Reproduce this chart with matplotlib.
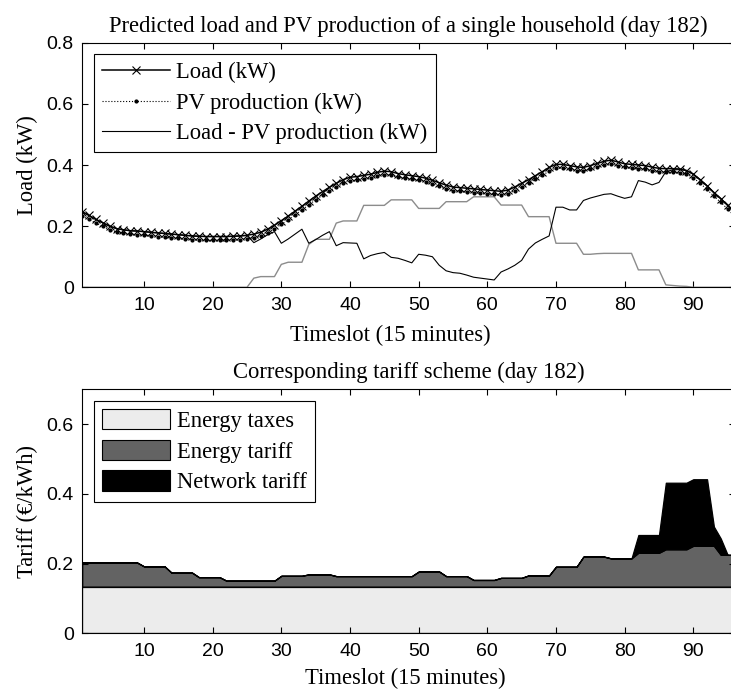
import matplotlib
matplotlib.use("Agg")
import matplotlib.pyplot as plt
from matplotlib.patches import Patch

# ---------------- data ----------------
timeslots = list(range(1, 97))

load = [0.247, 0.235, 0.222, 0.211, 0.200, 0.192, 0.188, 0.185, 0.184, 0.182,
        0.180, 0.178, 0.176, 0.174, 0.172, 0.170, 0.168, 0.167, 0.166, 0.166,
        0.166, 0.166, 0.167, 0.168, 0.170, 0.174, 0.180, 0.190, 0.203, 0.218,
        0.233, 0.249, 0.265, 0.282, 0.298, 0.313, 0.327, 0.340, 0.352, 0.360,
        0.362, 0.366, 0.370, 0.376, 0.380, 0.378, 0.372, 0.368, 0.365, 0.362,
        0.357, 0.350, 0.342, 0.334, 0.328, 0.326, 0.324, 0.322, 0.320, 0.318,
        0.316, 0.314, 0.318, 0.328, 0.340, 0.352, 0.365, 0.378, 0.392, 0.402,
        0.402, 0.398, 0.394, 0.392, 0.398, 0.405, 0.412, 0.416, 0.410, 0.404,
        0.402, 0.400, 0.398, 0.393, 0.389, 0.388, 0.388, 0.387, 0.382, 0.370,
        0.352, 0.332, 0.310, 0.290, 0.268, 0.245]

dotted_series = [0.232, 0.222, 0.210, 0.199, 0.188, 0.180, 0.176, 0.173, 0.172, 0.170,
                 0.168, 0.166, 0.164, 0.162, 0.160, 0.158, 0.156, 0.155, 0.154, 0.154,
                 0.154, 0.154, 0.155, 0.156, 0.158, 0.162, 0.168, 0.178, 0.191, 0.206,
                 0.221, 0.237, 0.253, 0.270, 0.286, 0.301, 0.315, 0.328, 0.340, 0.348,
                 0.350, 0.354, 0.358, 0.364, 0.368, 0.366, 0.360, 0.356, 0.353, 0.350,
                 0.345, 0.338, 0.330, 0.322, 0.316, 0.314, 0.312, 0.310, 0.308, 0.306,
                 0.304, 0.302, 0.306, 0.316, 0.328, 0.340, 0.353, 0.366, 0.380, 0.390,
                 0.390, 0.386, 0.382, 0.380, 0.386, 0.393, 0.400, 0.404, 0.398, 0.392,
                 0.390, 0.388, 0.386, 0.381, 0.377, 0.376, 0.376, 0.375, 0.370, 0.358,
                 0.340, 0.320, 0.298, 0.278, 0.256, 0.233]

pv_production = [0.0, 0.0, 0.0, 0.0, 0.0, 0.0, 0.0, 0.0, 0.0, 0.0,
                 0.0, 0.0, 0.0, 0.0, 0.0, 0.0, 0.0, 0.0, 0.0, 0.0,
                 0.0, 0.0, 0.0, 0.0, 0.0, 0.030, 0.035, 0.035, 0.035, 0.075,
                 0.082, 0.082, 0.082, 0.140, 0.157, 0.157, 0.157, 0.210, 0.217, 0.217,
                 0.217, 0.268, 0.268, 0.268, 0.268, 0.286, 0.286, 0.286, 0.286, 0.258,
                 0.258, 0.258, 0.258, 0.280, 0.280, 0.280, 0.280, 0.296, 0.296, 0.296,
                 0.296, 0.269, 0.269, 0.269, 0.269, 0.231, 0.231, 0.231, 0.231, 0.144,
                 0.144, 0.144, 0.144, 0.108, 0.108, 0.110, 0.111, 0.111, 0.111, 0.111,
                 0.111, 0.057, 0.057, 0.057, 0.057, 0.008, 0.006, 0.004, 0.003, 0.0,
                 0.0, 0.0, 0.0, 0.0, 0.0, 0.0]

load_minus_pv = [0.247, 0.235, 0.222, 0.211, 0.200, 0.192, 0.188, 0.185, 0.184, 0.182,
                 0.180, 0.178, 0.176, 0.174, 0.172, 0.170, 0.168, 0.167, 0.166, 0.166,
                 0.166, 0.166, 0.167, 0.168, 0.170, 0.146, 0.158, 0.172, 0.182, 0.144,
                 0.158, 0.174, 0.190, 0.144, 0.156, 0.170, 0.182, 0.136, 0.146, 0.145,
                 0.144, 0.093, 0.104, 0.110, 0.114, 0.098, 0.095, 0.088, 0.080, 0.108,
                 0.105, 0.100, 0.072, 0.054, 0.048, 0.046, 0.040, 0.033, 0.030, 0.027,
                 0.024, 0.050, 0.060, 0.072, 0.088, 0.125, 0.145, 0.157, 0.168, 0.262,
                 0.262, 0.253, 0.253, 0.284, 0.292, 0.298, 0.304, 0.306, 0.298, 0.291,
                 0.296, 0.349, 0.344, 0.335, 0.343, 0.378, 0.384, 0.385, 0.382, 0.370,
                 0.352, 0.332, 0.310, 0.290, 0.268, 0.245]

energy_taxes = [0.134, 0.134, 0.134, 0.134, 0.134, 0.134, 0.134, 0.134, 0.134, 0.134,
                0.134, 0.134, 0.134, 0.134, 0.134, 0.134, 0.134, 0.134, 0.134, 0.134,
                0.134, 0.134, 0.134, 0.134, 0.134, 0.134, 0.134, 0.134, 0.134, 0.134,
                0.134, 0.134, 0.134, 0.134, 0.134, 0.134, 0.134, 0.134, 0.134, 0.134,
                0.134, 0.134, 0.134, 0.134, 0.134, 0.134, 0.134, 0.134, 0.134, 0.134,
                0.134, 0.134, 0.134, 0.134, 0.134, 0.134, 0.134, 0.134, 0.134, 0.134,
                0.134, 0.134, 0.134, 0.134, 0.134, 0.134, 0.134, 0.134, 0.134, 0.134,
                0.134, 0.134, 0.134, 0.134, 0.134, 0.134, 0.134, 0.134, 0.134, 0.134,
                0.134, 0.134, 0.134, 0.134, 0.134, 0.134, 0.134, 0.134, 0.134, 0.134,
                0.134, 0.134, 0.134, 0.134, 0.134, 0.134]

energy_tariff = [0.069,
                 0.069, 0.069, 0.069, 0.069,
                 0.069, 0.069, 0.069, 0.069,
                 0.058, 0.058, 0.058, 0.058,
                 0.040, 0.040, 0.040, 0.040,
                 0.027, 0.027, 0.027, 0.027,
                 0.017, 0.017, 0.017, 0.017,
                 0.017, 0.017, 0.017, 0.017,
                 0.031, 0.031, 0.031, 0.031,
                 0.035, 0.035, 0.035, 0.035,
                 0.030, 0.030, 0.030, 0.030,
                 0.030, 0.030, 0.030, 0.030,
                 0.030, 0.030, 0.030, 0.030,
                 0.043, 0.043, 0.043, 0.043,
                 0.030, 0.030, 0.030, 0.030,
                 0.019, 0.019, 0.019, 0.019,
                 0.025, 0.025, 0.025, 0.025,
                 0.032, 0.032, 0.032, 0.032,
                 0.057, 0.057, 0.057, 0.057,
                 0.086, 0.086, 0.086, 0.086,
                 0.081, 0.081, 0.081, 0.081,
                 0.097, 0.097, 0.097, 0.097,
                 0.107, 0.107, 0.107, 0.107,
                 0.117, 0.117, 0.117, 0.117,
                 0.091, 0.091, 0.091]

network_tariff = [0.0, 0.0, 0.0, 0.0, 0.0, 0.0, 0.0, 0.0, 0.0, 0.0,
                  0.0, 0.0, 0.0, 0.0, 0.0, 0.0, 0.0, 0.0, 0.0, 0.0,
                  0.0, 0.0, 0.0, 0.0, 0.0, 0.0, 0.0, 0.0, 0.0, 0.0,
                  0.0, 0.0, 0.0, 0.0, 0.0, 0.0, 0.0, 0.0, 0.0, 0.0,
                  0.0, 0.0, 0.0, 0.0, 0.0, 0.0, 0.0, 0.0, 0.0, 0.0,
                  0.0, 0.0, 0.0, 0.0, 0.0, 0.0, 0.0, 0.0, 0.0, 0.0,
                  0.0, 0.0, 0.0, 0.0, 0.0, 0.0, 0.0, 0.0, 0.0, 0.0,
                  0.0, 0.0, 0.0, 0.0, 0.0, 0.0, 0.0, 0.0, 0.0, 0.0,
                  0.0, 0.051, 0.051, 0.051, 0.051, 0.191, 0.191, 0.191, 0.191, 0.191,
                  0.191, 0.191, 0.055, 0.047, 0.0, 0.0]

top_title = "Predicted load and PV production of a single household (day 182)"
bottom_title = "Corresponding tariff scheme (day 182)"
x_label = "Timeslot (15 minutes)"
top_ylabel = "Load (kW)"
bottom_ylabel = "Tariff (\u20ac/kWh)"
top_legend_labels = ["Load (kW)", "PV production (kW)", "Load - PV production (kW)"]
bottom_legend_labels = ["Energy taxes", "Energy tariff", "Network tariff"]
x_ticks = [10, 20, 30, 40, 50, 60, 70, 80, 90]
top_yticks = [0, 0.2, 0.4, 0.6, 0.8]
bottom_yticks = [0, 0.2, 0.4, 0.6]

# ---------------- style ----------------
SERIF = ["Liberation Serif", "DejaVu Serif"]
SANS = ["Liberation Sans", "DejaVu Sans"]
plt.rcParams["font.family"] = SERIF
FS = 16.3
TICK_FS = 14

fig = plt.figure(figsize=(7.31, 6.96), dpi=100)
ax1 = fig.add_axes([0.11245, 0.58721, 0.89234, 0.35144])
ax2 = fig.add_axes([0.11245, 0.09009, 0.89234, 0.35057])


def fmt(v):
    return "%g" % v


def style_axes(ax, yticks, ylim):
    ax.set_xlim(1, 96)
    ax.set_ylim(*ylim)
    ax.set_xticks(x_ticks)
    ax.set_xticklabels([fmt(v) for v in x_ticks], fontfamily=SANS, fontsize=TICK_FS)
    ax.set_yticks(yticks)
    ax.set_yticklabels([fmt(v) for v in yticks], fontfamily=SANS, fontsize=TICK_FS)
    ax.tick_params(axis="both", direction="in", length=4.5, width=0.8,
                   top=True, right=True, color="k")
    ax.tick_params(axis="x", pad=7)
    ax.tick_params(axis="y", pad=6)
    for s in ax.spines.values():
        s.set_linewidth(0.8)
        s.set_color("k")


# ---------------- top panel ----------------
l_dot, = ax1.plot(timeslots, dotted_series, color="k", ls=":", lw=0.8,
                  marker=".", ms=4, zorder=3)
l_load, = ax1.plot(timeslots, load, color="k", ls="-", lw=1.1,
                   marker="x", ms=6, mew=0.8, zorder=4)
ax1.plot(timeslots, pv_production, color="0.55", ls="-", lw=1.0, zorder=2)
l_diff, = ax1.plot(timeslots, load_minus_pv, color="k", ls="-", lw=0.8, zorder=2)

style_axes(ax1, top_yticks, (0, 0.8))
ax1.set_title(top_title, fontsize=FS, pad=8)
ax1.set_xlabel(x_label, fontsize=FS)
ax1.xaxis.set_label_coords(0.473, -0.155)
ax1.set_ylabel(top_ylabel, fontsize=FS, labelpad=6)

leg1 = ax1.legend([l_load, l_dot, l_diff], top_legend_labels, loc="upper left",
                  fontsize=FS, frameon=True, fancybox=False, edgecolor="k",
                  framealpha=1, handlelength=3.0, handletextpad=0.3,
                  borderpad=0.36, labelspacing=0.4, borderaxespad=0.5)
leg1.get_frame().set_linewidth(0.8)

# ---------------- bottom panel ----------------
colors = ["#ececec", "#636363", "#000000"]
ax2.stackplot(timeslots, energy_taxes, energy_tariff, network_tariff,
              colors=colors, edgecolor="k", linewidth=0.9)

style_axes(ax2, bottom_yticks, (0, 0.7))
ax2.set_title(bottom_title, fontsize=FS, pad=8)
ax2.set_xlabel(x_label, fontsize=FS)
ax2.xaxis.set_label_coords(0.495, -0.14)
ax2.set_ylabel(bottom_ylabel, fontsize=FS, labelpad=6)

handles2 = [Patch(facecolor=c, edgecolor="k", linewidth=0.8) for c in colors]
leg2 = ax2.legend(handles2, bottom_legend_labels, loc="upper left",
                  fontsize=FS, frameon=True, fancybox=False, edgecolor="k",
                  framealpha=1, handlelength=3.0, handleheight=1.0,
                  handletextpad=0.3, borderpad=0.38, labelspacing=0.34,
                  borderaxespad=0.5)
leg2.get_frame().set_linewidth(0.8)

fig.savefig("out.png", dpi=100)
